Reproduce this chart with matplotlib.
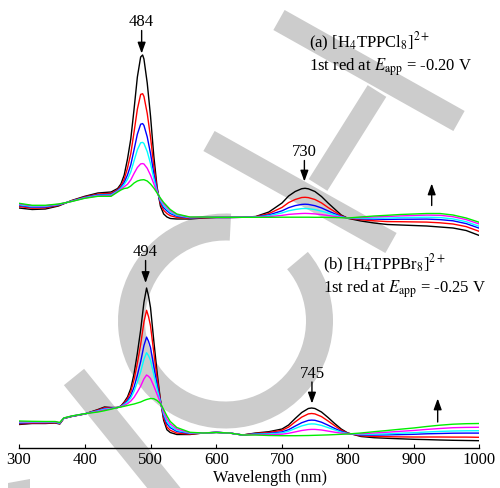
import matplotlib
matplotlib.use("Agg")
import matplotlib.pyplot as plt
from matplotlib.patches import Polygon, Wedge
import numpy as np

plt.rcParams['font.family'] = ['Liberation Serif', 'DejaVu Serif']
plt.rcParams['mathtext.fontset'] = 'stix'

# ---------------- data (arbitrary absorbance units) ----------------
wl_a = [300, 320, 340, 360, 380, 400, 420, 440,
        450, 455, 460, 465, 470, 475, 480, 485, 488, 490,
        495, 500, 505, 510, 515, 520, 525, 530,
        540, 560, 580, 600, 620, 640, 660, 680,
        700, 710, 720, 730, 735, 740, 750, 760, 770, 780, 790, 800,
        820, 840, 860, 880, 900, 920, 940, 960, 980, 1000]

a_black = [23, 21.5, 22, 25, 30.5, 34.7, 38, 39,
           42.5, 47, 56, 72, 92, 122, 154, 174, 176, 172,
           148, 115, 75, 44, 25, 17, 14, 12.5,
           12, 12, 13, 13.5, 13.5, 13.7, 14.5, 19,
           28, 35, 39.5, 42.3, 42.7, 42.2, 39.5, 34.5, 28, 22, 16, 12.7,
           10, 8, 6.5, 6, 5.5, 5, 4, 3, 0.5, -4.5]
a_red = [24.5, 22.8, 23.1, 25.6, 30.2, 34.1, 37.0, 37.7,
         41.4, 45.1, 51.8, 63.0, 77.4, 99.1, 121.8, 136.6, 137.3, 134.6,
         117.6, 93.9, 65.1, 42.1, 27.5, 20.6, 17.4, 15.3,
         13.6, 12.6, 13.3, 13.6, 13.6, 13.7, 14.3, 17.4,
         23.6, 28.4, 31.5, 33.5, 33.7, 33.4, 31.5, 28.1, 23.5, 19.4, 15.2, 12.8,
         11.2, 10.2, 9.4, 9.3, 9.1, 8.9, 8.2, 7.0, 4.4, -0.4]
a_blue = [25.6, 23.8, 24.0, 26.1, 29.9, 33.6, 36.2, 36.6,
          40.6, 43.7, 48.6, 56.1, 66.2, 81.3, 96.8, 106.8, 107.4, 105.6,
          94.1, 77.6, 57.4, 40.7, 29.4, 23.3, 20.1, 17.5,
          14.8, 13.1, 13.6, 13.6, 13.6, 13.7, 14.1, 16.1,
          20.2, 23.3, 25.4, 26.6, 26.8, 26.6, 25.3, 23.1, 20.1, 17.3, 14.5, 12.9,
          12.2, 11.9, 11.6, 11.8, 11.8, 11.9, 11.4, 10.2, 7.4, 2.8]
a_cyan = [26.3, 24.4, 24.6, 26.4, 29.8, 33.3, 35.7, 36.0,
          40.1, 42.8, 46.6, 51.7, 59.1, 70.2, 81.2, 88.2, 88.6, 87.5,
          79.4, 67.4, 52.6, 39.8, 30.6, 25.1, 21.7, 18.8,
          15.5, 13.4, 13.7, 13.6, 13.6, 13.7, 13.9, 15.3,
          18.1, 20.2, 21.5, 22.4, 22.5, 22.3, 21.4, 19.9, 17.9, 16.1, 14.1, 12.9,
          12.8, 12.9, 12.9, 13.4, 13.6, 13.8, 13.5, 12.1, 9.3, 4.7]
a_magenta = [27.1, 25.2, 25.2, 26.7, 29.6, 33.0, 35.1, 35.3,
             39.5, 41.8, 44.3, 46.8, 51.1, 57.6, 63.5, 67.1, 67.4, 67.0,
             62.7, 55.8, 47.2, 38.8, 32.0, 27.0, 23.6, 20.3,
             16.4, 13.7, 13.9, 13.6, 13.6, 13.7, 13.8, 14.4,
             15.6, 16.6, 17.1, 17.5, 17.6, 17.5, 17.1, 16.4, 15.5, 14.6, 13.7, 13.0,
             13.5, 14.1, 14.5, 15.1, 15.5, 15.9, 15.7, 14.3, 11.4, 7.0]
a_green = [27.7, 25.7, 25.7, 27, 29.5, 32.7, 34.7, 34.7,
           39, 41, 42.5, 43, 45, 48, 50, 51, 51.2, 51.3,
           50, 47, 43, 38, 33, 28.5, 25, 21.5,
           17, 14, 14, 13.7, 13.7, 13.7, 13.7, 13.7,
           13.8, 13.8, 13.8, 13.8, 13.8, 13.8, 13.7, 13.7, 13.6, 13.5, 13.3, 13,
           14, 15, 15.7, 16.5, 17, 17.5, 17.5, 16, 13, 8.7]

wl_b = [300, 320, 340, 355, 362, 368, 380, 400, 420, 430, 440,
        450, 455, 460, 465, 470, 475, 480, 485, 490, 494, 497, 500,
        505, 510, 515, 520, 525, 530, 540, 560, 580, 600,
        620, 640, 660, 680, 700, 710, 720, 730, 740, 745, 750,
        760, 770, 780, 790, 800, 820, 840, 860, 880, 900,
        920, 940, 960, 980, 1000]

b_black = [22.5, 23.5, 23.5, 24, 23, 28.5, 30.5, 33, 37.5, 40, 39.5,
           39.5, 41, 45, 50, 58.5, 73.4, 93.8, 116.9, 144.7, 159, 151, 139.4,
           106.1, 74.7, 47.4, 26.7, 17.2, 14.5, 12.5, 12.5, 14, 14.7,
           14, 12, 14, 15.3, 18, 22, 28.5, 34.5, 38.5, 39, 38.5,
           35, 29.5, 23.5, 18, 14, 10.5, 9.3, 8.7, 8.2, 7.7,
           7.4, 7, 6.7, 6.5, 6.3]
b_red = [23.2, 23.9, 23.9, 24.3, 23.3, 28.6, 30.6, 33.1, 37.0, 39.3, 39.2,
         39.5, 40.8, 44.1, 48.3, 55.3, 67.3, 83.8, 102.5, 125.1, 136.7, 130.4, 121.2,
         94.5, 69.1, 46.6, 28.9, 20.0, 16.7, 13.9, 12.9, 14.0, 14.6,
         14.0, 12.0, 13.6, 14.5, 16.7, 19.9, 25.1, 29.9, 33.1, 33.5, 33.1,
         30.4, 26.0, 21.3, 16.9, 13.8, 11.2, 10.5, 10.3, 10.1, 10.0,
         10.0, 10.0, 9.9, 9.9, 9.7]
b_blue = [24.0, 24.5, 24.4, 24.7, 23.7, 28.7, 30.7, 33.1, 36.4, 38.4, 38.8,
          39.5, 40.6, 43.1, 46.3, 51.4, 60.0, 71.9, 85.3, 101.5, 109.9, 105.7, 99.4,
          80.7, 62.3, 45.7, 31.5, 23.3, 19.3, 15.6, 13.5, 14.0, 14.6,
          14.0, 12.0, 13.1, 13.6, 15.1, 17.3, 20.9, 24.3, 26.6, 26.9, 26.7,
          24.8, 21.8, 18.6, 15.7, 13.6, 12.0, 11.9, 12.1, 12.4, 12.7,
          13.2, 13.5, 13.8, 13.9, 13.9]
b_cyan = [24.5, 24.8, 24.7, 24.9, 23.9, 28.8, 30.8, 33.2, 36.1, 37.9, 38.5,
          39.5, 40.4, 42.5, 45.1, 49.1, 55.8, 64.9, 75.2, 87.7, 94.3, 91.3, 86.7,
          72.6, 58.3, 45.1, 33.0, 25.2, 20.9, 16.6, 13.8, 14.0, 14.6,
          14.0, 12.0, 12.8, 13.1, 14.1, 15.8, 18.5, 21.1, 22.8, 23.1, 23.0,
          21.6, 19.4, 17.1, 14.9, 13.4, 12.5, 12.8, 13.2, 13.8, 14.3,
          15.0, 15.6, 16.0, 16.2, 16.3]
b_magenta = [25.2, 25.2, 25.1, 25.2, 24.2, 28.9, 30.9, 33.2, 35.6, 37.1, 38.2,
             39.5, 40.2, 41.6, 43.4, 45.9, 49.7, 55.0, 60.8, 68.1, 72.0, 70.7, 68.5,
             61.0, 52.7, 44.4, 35.1, 28.0, 23.1, 18.0, 14.2, 14.0, 14.6,
             14.0, 12.0, 12.4, 12.3, 12.8, 13.7, 15.1, 16.5, 17.4, 17.6, 17.6,
             17.0, 15.9, 14.8, 13.9, 13.2, 13.2, 14.0, 14.8, 15.7, 16.5,
             17.6, 18.5, 19.3, 19.6, 19.7]
b_green = [26, 25.7, 25.5, 25.5, 24.5, 29, 31, 33.3, 35, 36.3, 37.8,
           39.5, 40, 40.7, 41.5, 42.3, 43, 44, 45, 46.5, 47.5, 48, 48.5,
           48.3, 46.5, 43.5, 37.5, 31, 25.5, 19.5, 14.7, 14, 14.5,
           14, 12, 12, 11.5, 11.3, 11.3, 11.3, 11.4, 11.5, 11.6, 11.7,
           11.9, 12.1, 12.4, 12.7, 13, 14, 15.3, 16.5, 17.8, 19,
           20.5, 21.8, 22.8, 23.3, 23.5]

colors = ['black', '#ff0000', '#0000ff', '#00ffff', '#ff00ff', '#00ee00']
xticks = [300, 400, 500, 600, 700, 800, 900, 1000]
offset_a = 216  # vertical offset of panel (a)

# ---------------- figure ----------------
W, H = 500, 489
fig = plt.figure(figsize=(W / 100, H / 100), dpi=100)

# watermark (pixel coordinates)
wm = fig.add_axes([0, 0, 1, 1], zorder=0)
wm.set_xlim(0, W)
wm.set_ylim(H, 0)
wm.axis('off')
gray = '#cccccc'


def band(p0, p1, w):
    p0 = np.array(p0, float)
    p1 = np.array(p1, float)
    d = (p1 - p0) / np.linalg.norm(p1 - p0)
    n = np.array([-d[1], d[0]]) * w / 2
    return Polygon([p0 + n, p1 + n, p1 - n, p0 - n], closed=True,
                   facecolor=gray, edgecolor='none')


wm.add_patch(band((74, 378), (74 + 0.629 * 200, 378 + 0.777 * 200), 26))
wm.add_patch(Wedge((225.5, 322), 107.5, -40, 273, width=27,
                   facecolor=gray, edgecolor='none'))
wm.add_patch(band((279, 21), (459, 122), 23))
wm.add_patch(band((209, 142), (391, 244), 23))
wm.add_patch(band((377, 92), (318, 186), 22))
wm.add_patch(Polygon([(8, 484), (30, 480), (30, 489), (8, 489)], closed=True,
                     facecolor=gray, edgecolor='none'))

# main axes
ax = fig.add_axes([19 / W, (H - 449) / H, 460.3 / W, 449 / H], zorder=1)
ax.patch.set_alpha(0)
ax.set_xlim(300, 1000)
ax.set_ylim(-1, 448)

series_a = [a_black, a_red, a_blue, a_cyan, a_magenta, a_green]
series_b = [b_black, b_red, b_blue, b_cyan, b_magenta, b_green]
for c, ya in zip(colors, series_a):
    ax.plot(wl_a, np.array(ya) + offset_a, color=c, lw=1.0)
for c, yb in zip(colors, series_b):
    ax.plot(wl_b, yb, color=c, lw=1.0)

for s in ['left', 'right', 'top']:
    ax.spines[s].set_visible(False)
ax.spines['bottom'].set_linewidth(1.0)
ax.set_yticks([])
ax.set_xticks(xticks)
ax.set_xticklabels([str(t) for t in xticks])
ax.tick_params(axis='x', direction='in', length=3, width=0.8, labelsize=12, pad=2)
ax.set_xlabel('Wavelength (nm)', fontsize=11.8)
ax.xaxis.set_label_coords(0.545, -0.0465)

arrow_kw = dict(arrowstyle='-|>,head_length=0.55,head_width=0.2', color='black',
                lw=1.0, mutation_scale=12, shrinkA=0, shrinkB=0)


def down_arrow(x, label, y_text, y_tail, y_tip):
    ax.annotate('', xy=(x, y_tip), xytext=(x, y_tail), arrowprops=arrow_kw)
    ax.text(x, y_text, label, ha='center', va='center', fontsize=12)


down_arrow(486.5, '484', 426.5, 416.5, 393.5)
down_arrow(734, '730', 296.5, 286.5, 265.5)
down_arrow(492.5, '494', 195.5, 186.5, 164)
down_arrow(745.5, '745', 74, 65, 43.5)
ax.annotate('', xy=(927.6, 263.5), xytext=(927.6, 241.5), arrowprops=arrow_kw)
ax.annotate('', xy=(936.7, 48.5), xytext=(936.7, 25), arrowprops=arrow_kw)

ax.text(741.5, 400.3, r'(a) [H$_4$TPPCl$_8$]$^{2+}$', ha='left', va='baseline', fontsize=12)
ax.text(741.5, 377.3, r'1st red at $E_{\mathrm{app}}$ = -0.20 V', ha='left', va='baseline', fontsize=12)
ax.text(761.8, 178.3, r'(b) [H$_4$TPPBr$_8$]$^{2+}$', ha='left', va='baseline', fontsize=12)
ax.text(762.7, 155, r'1st red at $E_{\mathrm{app}}$ = -0.25 V', ha='left', va='baseline', fontsize=12)

fig.savefig('out.png', dpi=100)
